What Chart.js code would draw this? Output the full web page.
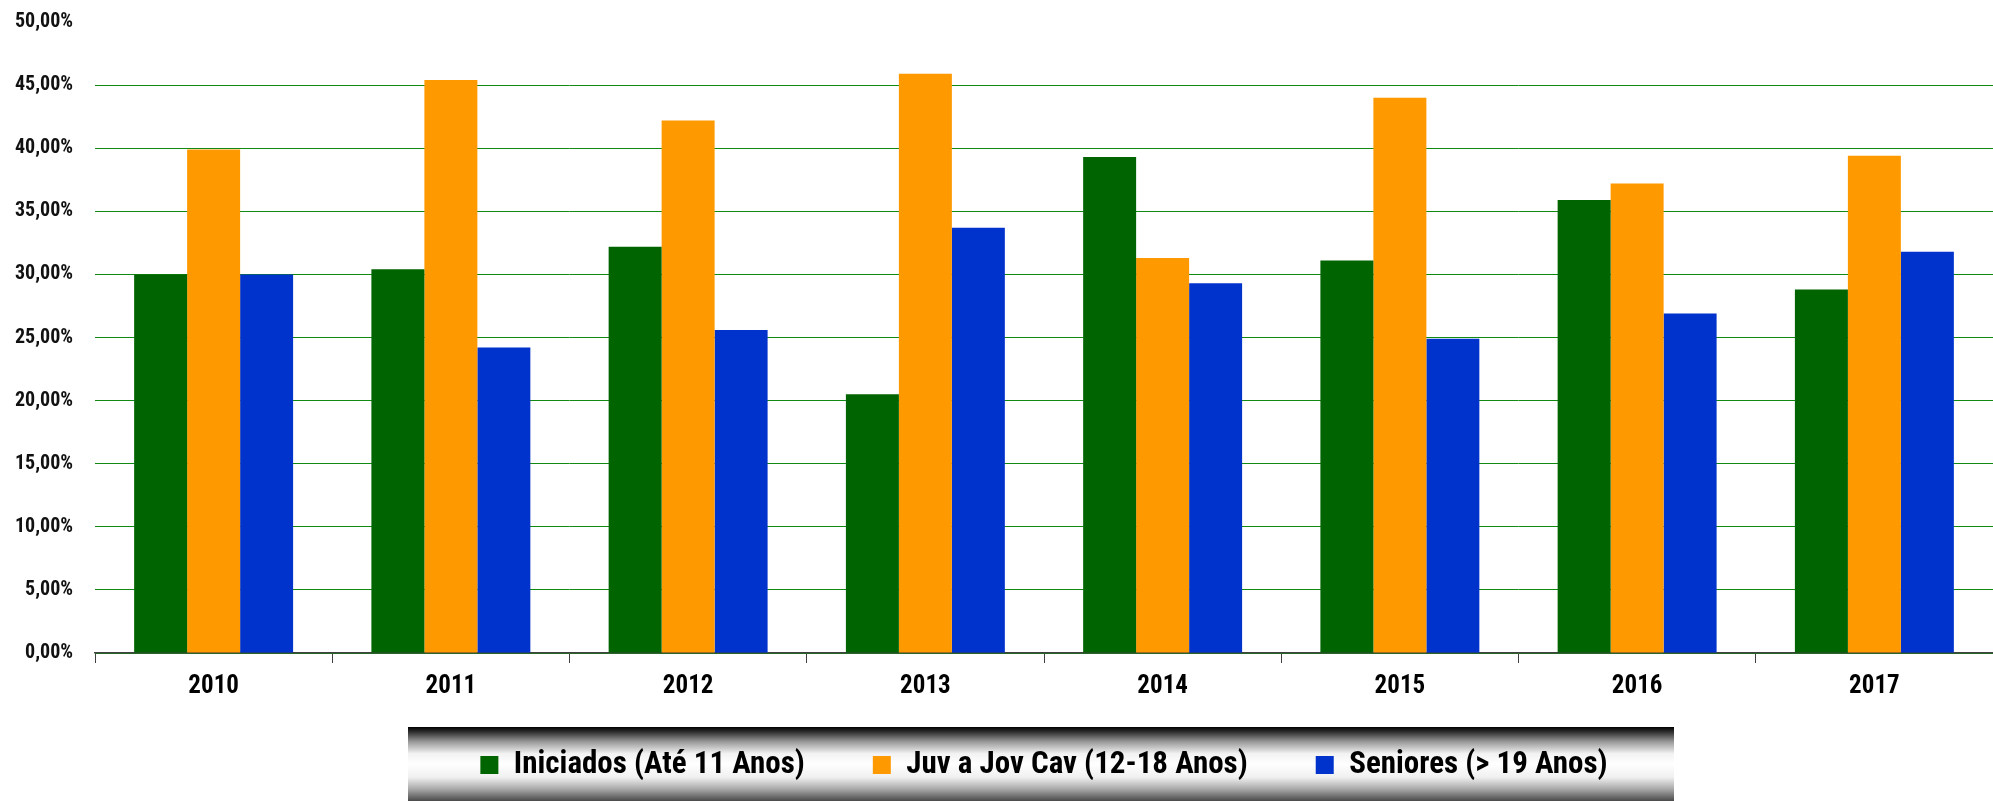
<!DOCTYPE html>
<html>
<head>
<meta charset="utf-8">
<script src="https://cdn.jsdelivr.net/npm/chart.js@4/dist/chart.umd.min.js"></script>
<style>
  html, body { margin: 0; padding: 0; background: #ffffff; }
  #wrap { width: 1993px; height: 801px; position: relative; }
</style>
</head>
<body>
<div id="wrap"><canvas id="c"></canvas></div>
<script>
const years = ['2010', '2011', '2012', '2013', '2014', '2015', '2016', '2017'];
const seriesNames = ['Iniciados (Até 11 Anos)', 'Juv a Jov Cav (12-18 Anos)', 'Seniores (> 19 Anos)'];
const iniciados = [30.0, 30.4, 32.2, 20.5, 39.3, 31.1, 35.9, 28.8];
const juvenis   = [39.9, 45.4, 42.2, 45.9, 31.3, 44.0, 37.2, 39.4];
const seniores  = [30.0, 24.2, 25.6, 33.7, 29.3, 24.9, 26.9, 31.8];
const yTicks = { min: 0, max: 50, step: 5 };

const FONT = "'Roboto Condensed', 'DejaVu Sans Condensed', sans-serif";

const legendBackground = {
  id: 'legendBackground',
  beforeDraw(chart) {
    const ctx = chart.ctx;
    const top = 727, bottom = chart.height, left = 408, right = 1674;
    const g = ctx.createLinearGradient(0, top, 0, bottom);
    g.addColorStop(0.00, '#000000');
    g.addColorStop(0.06, '#2a2a2a');
    g.addColorStop(0.20, '#9a9a9a');
    g.addColorStop(0.36, '#f2f2f2');
    g.addColorStop(0.50, '#ffffff');
    g.addColorStop(0.68, '#f0f0f0');
    g.addColorStop(0.84, '#a8a8a8');
    g.addColorStop(1.00, '#4a4a4a');
    ctx.save();
    ctx.fillStyle = g;
    ctx.fillRect(left, top, right - left, bottom - top);
    ctx.restore();
  }
};

new Chart(document.getElementById('c'), {
  type: 'bar',
  data: {
    labels: years,
    datasets: [
      { label: seriesNames[0], data: iniciados, backgroundColor: '#006400' },
      { label: seriesNames[1], data: juvenis,   backgroundColor: '#ff9900' },
      { label: seriesNames[2], data: seniores,  backgroundColor: '#0033cc' }
    ]
  },
  options: {
    responsive: true,
    maintainAspectRatio: false,
    animation: false,
    datasets: { bar: { categoryPercentage: 0.67, barPercentage: 1.0 } },
    layout: { padding: { top: 22, left: 0, right: 0, bottom: 10.5 } },
    plugins: {
      tooltip: { enabled: false },
      legend: {
        position: 'bottom',
        fullSize: false,
        labels: {
          color: '#000000',
          font: { family: FONT, size: 31, weight: 'bold' },
          boxWidth: 18,
          boxHeight: 18,
          padding: 68
        }
      }
    },
    scales: {
      x: {
        afterFit(scale) {
          scale.height = 28.5;
          scale._computeLabelArea = () => undefined;
        },
        border: { display: true, color: '#404040', width: 1.5 },
        grid: { display: true, drawOnChartArea: false, drawTicks: true, tickLength: 10, color: '#404040', offset: true },
        ticks: { color: '#000000', padding: 9, font: { family: FONT, size: 25, weight: 'bold' } }
      },
      y: {
        min: yTicks.min,
        max: yTicks.max,
        afterFit(scale) { scale.width = 95; },
        border: { display: false },
        grid: {
          drawTicks: true,
          tickLength: 22,
          tickColor: 'rgba(0,0,0,0)',
          lineWidth: 1,
          color: (c) => (c.tick && c.tick.value >= yTicks.max) ? 'rgba(0,0,0,0)' : '#108a10'
        },
        ticks: {
          stepSize: yTicks.step,
          padding: 0,
          color: '#111111',
          font: { family: FONT, size: 20, weight: 'bold' },
          callback: (v) => v.toFixed(2).replace('.', ',') + '%'
        }
      }
    }
  },
  plugins: [legendBackground]
});
</script>
</body>
</html>
